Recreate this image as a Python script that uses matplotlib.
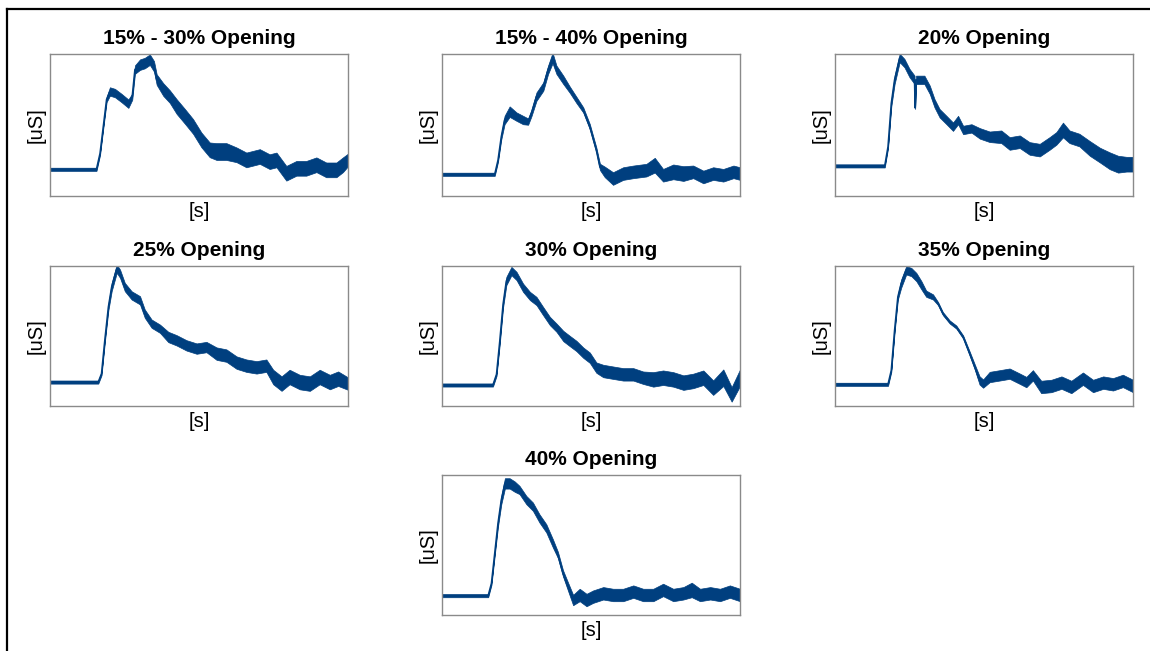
import matplotlib
matplotlib.use("Agg")
import matplotlib.pyplot as plt
from matplotlib.lines import Line2D
import numpy as np

plt.rcParams['font.family'] = ['Liberation Sans', 'DejaVu Sans']

titles = ["15% - 30% Opening", "15% - 40% Opening", "20% Opening",
          "25% Opening", "30% Opening", "35% Opening", "40% Opening"]

# time (normalised), conductance (arbitrary uS), noise half-width
t_1530 = [0, 0.156, 0.168, 0.179, 0.19, 0.201, 0.218, 0.24, 0.263, 0.276, 0.285, 0.302, 0.318, 0.335,
          0.349, 0.358, 0.38, 0.402, 0.425, 0.453, 0.48, 0.508, 0.536, 0.559, 0.592, 0.626, 0.659,
          0.704, 0.737, 0.76, 0.793, 0.827, 0.86, 0.894, 0.927, 0.961, 0.983, 1.0]
g_1530 = [0.188, 0.188, 0.30, 0.49, 0.68, 0.736, 0.725, 0.69, 0.65, 0.70, 0.89, 0.925, 0.936, 0.96,
          0.913, 0.82, 0.75, 0.70, 0.63, 0.56, 0.49, 0.395, 0.325, 0.313, 0.313, 0.29, 0.254,
          0.278, 0.242, 0.254, 0.16, 0.195, 0.195, 0.22, 0.184, 0.184, 0.22, 0.254]
n_1530 = [3, 3, 3, 3, 5, 8, 8, 8, 8, 6, 8, 10, 10, 10, 10, 10, 12, 12, 14, 14, 14, 14, 14, 16, 16,
          14, 14, 14, 14, 14, 14, 14, 14, 14, 14, 14, 14, 12]

t_1540 = [0, 0.177, 0.188, 0.199, 0.21, 0.227, 0.25, 0.272, 0.289, 0.3, 0.317, 0.34, 0.356, 0.371,
          0.384, 0.407, 0.429, 0.451, 0.474, 0.496, 0.518, 0.53, 0.546, 0.574, 0.608, 0.642, 0.686,
          0.714, 0.742, 0.776, 0.81, 0.843, 0.877, 0.91, 0.944, 0.978, 1.0]
g_1540 = [0.153, 0.153, 0.252, 0.417, 0.535, 0.594, 0.559, 0.535, 0.524, 0.583, 0.70, 0.771, 0.889,
          0.972, 0.889, 0.818, 0.748, 0.677, 0.606, 0.488, 0.323, 0.205, 0.170, 0.123, 0.158, 0.17,
          0.182, 0.217, 0.146, 0.17, 0.158, 0.17, 0.134, 0.158, 0.146, 0.17, 0.158]
n_1540 = [3, 3, 3, 5, 8, 10, 8, 8, 6, 6, 8, 8, 8, 10, 8, 8, 6, 6, 5, 5, 5, 6, 10, 12, 12, 12, 12,
          14, 12, 14, 14, 12, 12, 12, 12, 12, 12]

t_20 = [0, 0.167, 0.178, 0.189, 0.2, 0.217, 0.233, 0.25, 0.267, 0.269, 0.272, 0.284, 0.3, 0.318,
        0.334, 0.351, 0.374, 0.396, 0.413, 0.43, 0.458, 0.486, 0.519, 0.558, 0.586, 0.62, 0.653,
        0.687, 0.72, 0.743, 0.765, 0.787, 0.82, 0.855, 0.889, 0.922, 0.95, 0.978, 1.0]
g_20 = [0.212, 0.212, 0.347, 0.653, 0.818, 0.972, 0.936, 0.866, 0.818, 0.62, 0.818, 0.818, 0.818,
        0.748, 0.653, 0.583, 0.535, 0.488, 0.535, 0.465, 0.476, 0.441, 0.417, 0.417, 0.370, 0.382,
        0.335, 0.323, 0.370, 0.406, 0.465, 0.417, 0.394, 0.335, 0.288, 0.248, 0.224, 0.224, 0.224]
n_20 = [3, 3, 3, 6, 8, 8, 8, 8, 8, 2, 8, 8, 8, 8, 8, 8, 8, 8, 8, 8, 8, 10, 10, 12, 12, 12, 12, 12,
        12, 12, 14, 12, 12, 14, 14, 16, 16, 14, 14]

t_25 = [0, 0.162, 0.173, 0.184, 0.196, 0.207, 0.224, 0.235, 0.251, 0.274, 0.302, 0.318, 0.341,
        0.369, 0.397, 0.425, 0.458, 0.492, 0.525, 0.559, 0.592, 0.626, 0.659, 0.693, 0.726, 0.749,
        0.777, 0.804, 0.838, 0.872, 0.905, 0.939, 0.967, 1.0]
g_25 = [0.171, 0.171, 0.231, 0.469, 0.707, 0.85, 0.981, 0.945, 0.85, 0.79, 0.755, 0.66, 0.588,
        0.552, 0.493, 0.469, 0.433, 0.41, 0.421, 0.374, 0.36, 0.31, 0.288, 0.276, 0.288, 0.207,
        0.16, 0.207, 0.171, 0.16, 0.207, 0.171, 0.195, 0.16]
n_25 = [3, 3, 3, 4, 6, 8, 8, 8, 8, 8, 8, 8, 8, 8, 10, 10, 10, 10, 10, 12, 12, 12, 12, 12, 12, 14,
        14, 14, 14, 14, 14, 14, 14, 12]

t_30 = [0, 0.171, 0.183, 0.194, 0.205, 0.216, 0.233, 0.25, 0.272, 0.295, 0.317, 0.339, 0.362,
        0.384, 0.407, 0.429, 0.451, 0.474, 0.496, 0.518, 0.541, 0.574, 0.608, 0.642, 0.675, 0.709,
        0.742, 0.776, 0.81, 0.843, 0.877, 0.91, 0.944, 0.972, 1.0]
g_30 = [0.15, 0.15, 0.226, 0.464, 0.726, 0.893, 0.964, 0.929, 0.845, 0.786, 0.75, 0.679, 0.607,
        0.56, 0.5, 0.464, 0.429, 0.381, 0.345, 0.274, 0.25, 0.238, 0.226, 0.226, 0.202, 0.19,
        0.202, 0.19, 0.167, 0.179, 0.202, 0.131, 0.202, 0.083, 0.202]
n_30 = [3, 3, 3, 5, 6, 8, 8, 8, 8, 8, 8, 8, 8, 8, 10, 10, 10, 10, 10, 10, 12, 12, 12, 12, 12, 14,
        14, 14, 14, 14, 14, 14, 16, 14, 16]

t_35 = [0, 0.178, 0.189, 0.2, 0.211, 0.222, 0.239, 0.256, 0.273, 0.29, 0.306, 0.329, 0.346, 0.362,
        0.385, 0.407, 0.43, 0.452, 0.469, 0.485, 0.497, 0.519, 0.553, 0.586, 0.62, 0.642, 0.664,
        0.692, 0.726, 0.76, 0.793, 0.832, 0.866, 0.9, 0.933, 0.966, 1.0]
g_35 = [0.155, 0.155, 0.255, 0.54, 0.779, 0.874, 0.969, 0.957, 0.921, 0.862, 0.802, 0.779, 0.731,
        0.66, 0.6, 0.564, 0.493, 0.374, 0.279, 0.183, 0.16, 0.207, 0.219, 0.231, 0.195, 0.171,
        0.219, 0.136, 0.143, 0.167, 0.136, 0.195, 0.143, 0.167, 0.155, 0.179, 0.143]
n_35 = [3, 3, 3, 4, 5, 8, 8, 8, 8, 8, 6, 5, 3, 3, 3, 3, 3, 4, 5, 8, 8, 10, 10, 10, 10, 10, 10, 12,
        12, 12, 12, 12, 12, 12, 12, 12, 12]

t_40 = [0, 0.155, 0.166, 0.177, 0.188, 0.199, 0.211, 0.227, 0.244, 0.26, 0.283, 0.305, 0.327, 0.35,
        0.372, 0.389, 0.406, 0.423, 0.44, 0.462, 0.485, 0.507, 0.541, 0.574, 0.608, 0.642, 0.675,
        0.709, 0.742, 0.776, 0.81, 0.838, 0.866, 0.9, 0.933, 0.966, 1.0]
g_40 = [0.138, 0.138, 0.226, 0.44, 0.655, 0.821, 0.94, 0.94, 0.917, 0.893, 0.821, 0.774, 0.69,
        0.619, 0.512, 0.429, 0.298, 0.202, 0.107, 0.143, 0.107, 0.131, 0.155, 0.143, 0.143, 0.167,
        0.143, 0.143, 0.179, 0.143, 0.155, 0.179, 0.143, 0.155, 0.143, 0.167, 0.143]
n_40 = [3, 3, 3, 4, 6, 8, 10, 10, 10, 8, 8, 8, 8, 8, 8, 6, 6, 8, 10, 12, 12, 12, 12, 12, 12, 12,
        12, 12, 12, 12, 12, 14, 12, 12, 12, 12, 12]

series = [(t_1530, g_1530, n_1530), (t_1540, g_1540, n_1540), (t_20, g_20, n_20),
          (t_25, g_25, n_25), (t_30, g_30, n_30), (t_35, g_35, n_35), (t_40, g_40, n_40)]

W, H = 1150, 651
fig = plt.figure(figsize=(W / 100, H / 100), dpi=100)

# axes boxes in pixels: (left, right) and (top, bottom)
cols = [(50, 348), (442, 740), (835, 1133)]
rows = [(54, 196), (266, 406), (475, 615)]
slots = [(0, 0), (0, 1), (0, 2), (1, 0), (1, 1), (1, 2), (2, 1)]

color = '#003f7f'
for (r, c), title, (t, g, n) in zip(slots, titles, series):
    x0, x1 = cols[c]
    y0, y1 = rows[r]
    ax = fig.add_axes([x0 / W, 1 - y1 / H, (x1 - x0) / W, (y1 - y0) / H])
    t = np.asarray(t); g = np.asarray(g); n = np.asarray(n) / 270.0
    ax.fill_between(t, g - n, g + n, color=color, lw=0.5, alpha=1.0)
    ax.plot(t, g, color=color, lw=1.2)
    ax.set_xlim(0, 1)
    ax.set_ylim(0, 1)
    ax.set_xticks([]); ax.set_yticks([])
    for s in ax.spines.values():
        s.set_color('#8a8a8a'); s.set_linewidth(1.0)
    ax.set_title(title, fontsize=15, fontweight='bold', pad=7)
    ax.set_xlabel('[s]', fontsize=14.5, labelpad=4)
    ax.set_ylabel('[uS]', fontsize=14.5, labelpad=3)

# figure frame (top and left edges visible)
fig.add_artist(Line2D([7 / W, 1.0], [1 - 9 / H, 1 - 9 / H], transform=fig.transFigure, color='black', lw=1.6))
fig.add_artist(Line2D([7 / W, 7 / W], [0, 1 - 9 / H], transform=fig.transFigure, color='black', lw=1.6))

fig.savefig('out.png', dpi=100)
